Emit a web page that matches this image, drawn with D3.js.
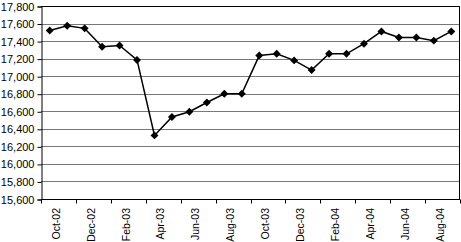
<!DOCTYPE html>
<html>
<head>
<meta charset="utf-8">
<script src="https://cdn.jsdelivr.net/npm/d3@7"></script>
<style>
  body { margin: 0; background: #fff; }
  svg { display: block; font-family: "Liberation Sans", Arial, sans-serif; }
</style>
</head>
<body>
<svg id="chart"></svg>
<script>
const width = 461;
const height = 242;

const months = ["Oct-02", "Nov-02", "Dec-02", "Jan-03", "Feb-03", "Mar-03",
  "Apr-03", "May-03", "Jun-03", "Jul-03", "Aug-03", "Sep-03",
  "Oct-03", "Nov-03", "Dec-03", "Jan-04", "Feb-04", "Mar-04",
  "Apr-04", "May-04", "Jun-04", "Jul-04", "Aug-04", "Sep-04"];
const values = [17520, 17575, 17545, 17335, 17350, 17185,
  16325, 16535, 16595, 16700, 16800, 16800,
  17235, 17255, 17180, 17070, 17255, 17255,
  17370, 17510, 17440, 17440, 17405, 17510];
const yTicks = [15600, 15800, 16000, 16200, 16400, 16600, 16800, 17000, 17200, 17400, 17600, 17800];

const margin = { top: 6, right: 1, bottom: 43, left: 41 };

const svg = d3.select("#chart")
  .attr("width", width)
  .attr("height", height);

const x = d3.scaleBand()
  .domain(months)
  .range([margin.left, width - margin.right])
  .padding(0);

const y = d3.scaleLinear()
  .domain([15600, 17800])
  .range([height - margin.bottom, margin.top]);

// gridlines
svg.append("g")
  .selectAll("line")
  .data(yTicks)
  .join("line")
  .attr("x1", margin.left)
  .attr("x2", width - margin.right)
  .attr("y1", d => Math.round(y(d)) + 0.5)
  .attr("y2", d => Math.round(y(d)) + 0.5)
  .attr("stroke", "#777")
  .attr("stroke-width", 1);

// plot border (top + right)
svg.append("path")
  .attr("d", `M${margin.left},${Math.round(y(17800)) + 0.5}H${width - margin.right - 0.5}V${Math.round(y(15600))}`)
  .attr("fill", "none")
  .attr("stroke", "#000");

// y axis
const yAxis = svg.append("g")
  .attr("transform", `translate(${margin.left + 0.5},0.5)`)
  .call(d3.axisLeft(y).tickValues(yTicks).tickSize(4).tickPadding(3)
    .tickFormat(d3.format(",")));
yAxis.select(".domain").attr("stroke", "#000");
yAxis.selectAll("text")
  .attr("font-size", 11)
  .attr("fill", "#000")
  .attr("font-family", "Liberation Sans, Arial, sans-serif");

// x axis: ticks between categories every 2 months
const xAxisG = svg.append("g")
  .attr("transform", `translate(0,${Math.round(y(15600)) + 0.5})`);
xAxisG.append("line")
  .attr("x1", margin.left)
  .attr("x2", width - margin.right)
  .attr("stroke", "#000");
const boundaries = months.filter((d, i) => i % 2 === 0).map(d => x(d)).concat([x(months[months.length - 1]) + x.bandwidth()]);
xAxisG.selectAll("line.tick")
  .data(boundaries)
  .join("line")
  .attr("class", "tick")
  .attr("x1", d => Math.round(d) + 0.5)
  .attr("x2", d => Math.round(d) + 0.5)
  .attr("y1", 0)
  .attr("y2", 4)
  .attr("stroke", "#000");
xAxisG.selectAll("text")
  .data(months.filter((d, i) => i % 2 === 0))
  .join("text")
  .attr("transform", d => `translate(${x(d) + x.bandwidth() / 2 + 10},8.5) rotate(-90)`)
  .attr("text-anchor", "end")
  .attr("font-size", 10.5)
  .attr("fill", "#000")
  .text(d => d);

// line
const line = d3.line()
  .x((d, i) => x(months[i]) + x.bandwidth() / 2)
  .y(d => y(d));

svg.append("path")
  .datum(values)
  .attr("d", line)
  .attr("fill", "none")
  .attr("stroke", "#000")
  .attr("stroke-width", 1.5);

// diamond markers
const diamond = d3.symbol().type(d3.symbolDiamond2).size(40);
svg.append("g")
  .selectAll("path")
  .data(values)
  .join("path")
  .attr("transform", (d, i) => `translate(${x(months[i]) + x.bandwidth() / 2},${y(d)})`)
  .attr("d", diamond)
  .attr("fill", "#000");
</script>
</body>
</html>
